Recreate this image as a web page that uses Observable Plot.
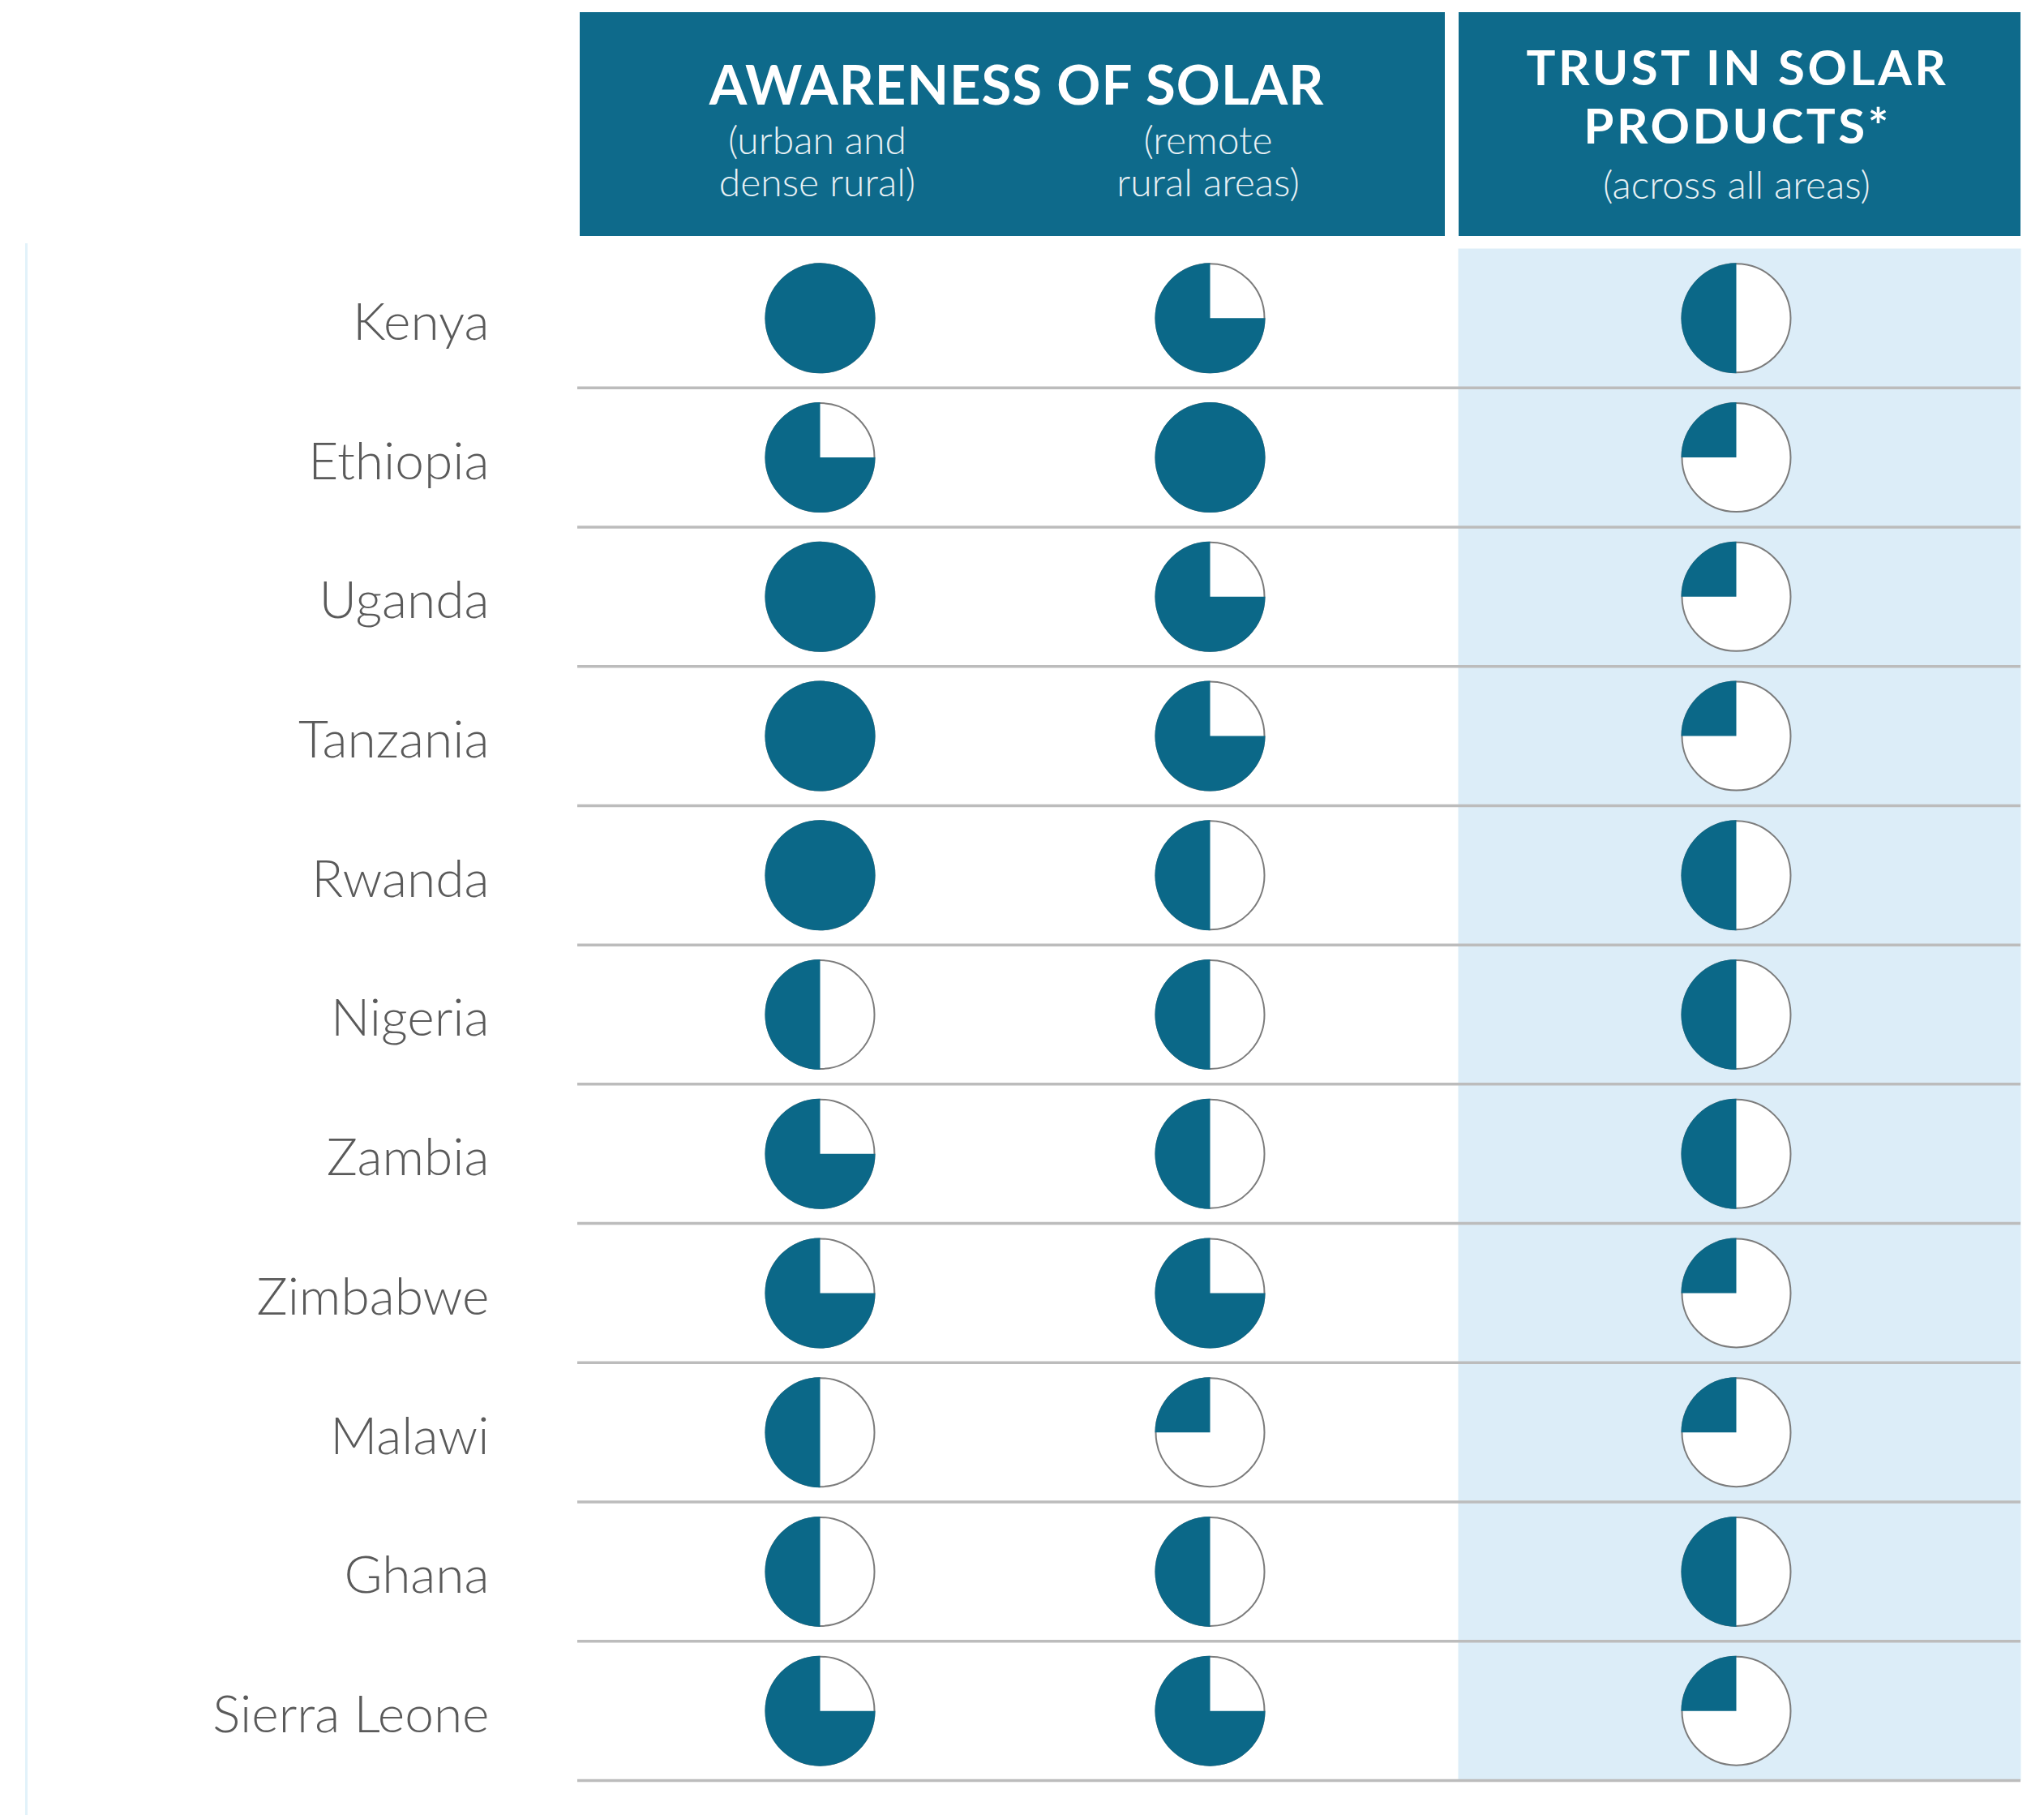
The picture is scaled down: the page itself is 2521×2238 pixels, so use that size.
<!DOCTYPE html>
<html><head><meta charset="utf-8">
<script src="https://cdn.jsdelivr.net/npm/d3@7"></script>
<script src="https://cdn.jsdelivr.net/npm/@observablehq/plot@0.6"></script>
<style>
body{margin:0;background:#fff;font-family:Lato,"Noto Sans",sans-serif;}
#wrap{position:relative;width:2521px;height:2238px;overflow:hidden;background:#fff}
.box{position:absolute;background:#0e6a8b;top:15px;height:276px}
.t{position:absolute;color:#fff;white-space:nowrap;transform:translateX(-50%);text-align:center}
.h{font-weight:700;font-size:67px;letter-spacing:1px;line-height:70px}
.h2{font-weight:700;font-size:60px;letter-spacing:3.5px;line-height:72px}
.s{font-weight:300;font-size:48px;color:#e8f1f5;line-height:52px}
#a{position:absolute;top:291px;left:0}
#b{position:absolute;top:291px;left:1790px}
#edge{position:absolute;left:31px;top:300px;width:3px;height:1938px;background:#e2f2fa}
</style></head>
<body>
<div id="wrap">
  <div id="edge"></div>
  <div class="box" style="left:715px;width:1067px"></div>
  <div class="box" style="left:1799px;width:693px"></div>
  <div class="t h" style="left:1254px;top:68px">AWARENESS OF SOLAR</div>
  <div class="t s" style="left:1008px;top:146px">(urban and<br>dense rural)</div>
  <div class="t s" style="left:1490px;top:146px">(remote<br>rural areas)</div>
  <div class="t h2" style="left:2143px;top:46px">TRUST IN SOLAR<br>PRODUCTS*</div>
  <div class="t s" style="left:2142px;top:201px">(across all areas)</div>
  <div id="a"></div>
  <div id="b"></div>
</div>
<script>
const countries = ["Kenya","Ethiopia","Uganda","Tanzania","Rwanda","Nigeria","Zambia","Zimbabwe","Malawi","Ghana","Sierra Leone"];
const awarenessUrban  = [1, 0.75, 1, 1, 1, 0.5, 0.75, 0.75, 0.5, 0.5, 0.75];
const awarenessRemote = [0.75, 1, 0.75, 0.75, 0.5, 0.5, 0.5, 0.75, 0.25, 0.5, 0.75];
const trustAll        = [0.5, 0.25, 0.25, 0.25, 0.5, 0.5, 0.5, 0.25, 0.25, 0.5, 0.25];
const awarenessCols = ["urban", "remote"];
const trustCols = ["trust"];

const teal = "#0b6888";
const rows = countries.map((c, i) => ({i, country: c}));
const awareness = countries.flatMap((c, i) => [
  {i, country: c, col: "urban", value: awarenessUrban[i]},
  {i, country: c, col: "remote", value: awarenessRemote[i]}
]);
const trust = countries.map((c, i) => ({i, country: c, col: "trust", value: trustAll[i]}));

function sector(v) {
  return {draw(ctx, size) {
    const r = Math.sqrt(size / Math.PI);
    if (v >= 1) { ctx.moveTo(r, 0); ctx.arc(0, 0, r, 0, 2 * Math.PI); ctx.closePath(); return; }
    const a0 = -Math.PI / 2, a1 = a0 - v * 2 * Math.PI;
    ctx.moveTo(0, 0);
    ctx.lineTo(r * Math.cos(a0), r * Math.sin(a0));
    ctx.arc(0, 0, r, a0, a1, true);
    ctx.closePath();
  }};
}

const common = {
  height: 1947, marginTop: 15, marginBottom: 43,
  y: {domain: [countries.length - 0.5, -0.5], axis: null},
  style: {background: "transparent", overflow: "visible"}
};
const balls = (data) => [
  Plot.dot(data, {x: "col", y: "i", r: 67, fill: "white", stroke: "#7c7c7c", strokeWidth: 2}),
  Plot.dot(data, {x: "col", y: "i", r: 68, symbol: d => sector(d.value), fill: teal, stroke: "none"})
];
const seps = Plot.ruleY(rows, {y: d => d.i + 0.5, stroke: "#bcbcbc", strokeWidth: 3.5});

const chartA = Plot.plot({
  ...common,
  width: 1790, marginLeft: 712, marginRight: 0,
  x: {type: "point", domain: awarenessCols, padding: 0.62, axis: null},
  marks: [
    seps,
    Plot.text(rows, {y: "i", text: "country", frameAnchor: "left", textAnchor: "end", dx: -109, dy: 6,
      fontSize: 64, fontWeight: 300, fill: "#5a5a5a", fontFamily: "Lato"}),
    ...balls(awareness)
  ]
});
const chartB = Plot.plot({
  ...common,
  width: 731, marginLeft: 0, marginRight: 29,
  x: {type: "point", domain: trustCols, axis: null},
  marks: [
    Plot.frame({fill: "#dcedf8", stroke: "none", insetLeft: 8}),
    seps,
    ...balls(trust)
  ]
});
document.getElementById("a").appendChild(chartA);
document.getElementById("b").appendChild(chartB);
</script>
</body></html>
